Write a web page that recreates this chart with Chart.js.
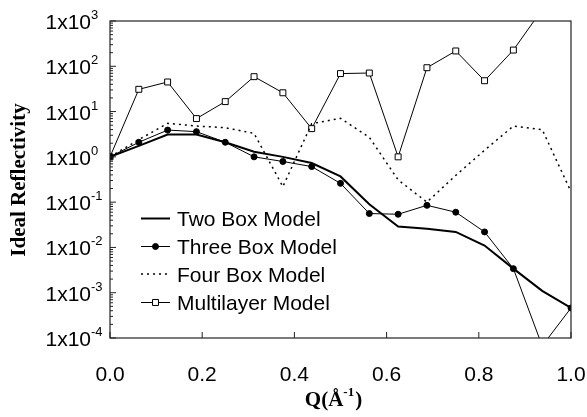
<!DOCTYPE html>
<html>
<head>
<meta charset="utf-8">
<script src="https://cdn.jsdelivr.net/npm/chart.js@4"></script>
<style>
  html, body { margin: 0; padding: 0; background: #fff; }
</style>
</head>
<body>
<canvas id="reflChart" width="587" height="417"></canvas>
<script>
// Q values (1/Angstrom)
const qValues = [0, 0.0625, 0.125, 0.1875, 0.25, 0.3125, 0.375, 0.4375, 0.5, 0.5625, 0.625, 0.6875, 0.75, 0.8125, 0.875, 0.9375, 1.0];

// reflectivity per model
const twoBox = [1, 1.75, 3.1, 3.1, 2.1, 1.3, 1.0, 0.73, 0.37, 0.09, 0.029, 0.026, 0.022, 0.011, 0.0034, 0.0011, 0.00046];
const threeBox = [1, 2.1, 3.9, 3.6, 2.1, 1.0, 0.79, 0.61, 0.26, 0.056, 0.054, 0.085, 0.06, 0.022, 0.0034, 0.000067, 0.00046];
const fourBox = [1, 2.4, 5.5, 4.8, 4.4, 3.3, 0.22, 5.4, 7.1, 2.7, 0.31, 0.1, 0.39, 1.4, 4.8, 4.0, 0.17];
const multilayer = [1, 31, 45, 7, 16.6, 59, 26, 4.2, 69, 71, 1.0, 93, 218, 48, 228, 1800];

const seriesNames = ["Two Box Model", "Three Box Model", "Four Box Model", "Multilayer Model"];
const yDecades = [-4, -3, -2, -1, 0, 1, 2, 3];
const xTickValues = [0, 0.2, 0.4, 0.6, 0.8, 1.0];
const xTickLabels = ["0.0", "0.2", "0.4", "0.6", "0.8", "1.0"];

function toPoints(vals) {
    return vals.map((v, i) => ({ x: qValues[i], y: v }));
}

const sansFont = "'Liberation Sans', Arial, Helvetica, sans-serif";
const serifFont = "'Liberation Serif', 'Times New Roman', serif";

// axes, ticks, labels and legend drawn by hand to match the old plot style
const framePlugin = {
    id: "frame",
    afterDraw(chart) {
        const ctx = chart.ctx;
        const a = chart.chartArea;
        const xs = chart.scales.x;
        const ys = chart.scales.y;
        ctx.save();
        ctx.strokeStyle = "#222";
        ctx.lineWidth = 1.2;
        ctx.strokeRect(a.left, a.top, a.right - a.left, a.bottom - a.top);

        // y ticks, inside
        ctx.lineWidth = 1;
        ctx.beginPath();
        yDecades.forEach(e => {
            const py = ys.getPixelForValue(Math.pow(10, e));
            ctx.moveTo(a.left, py);
            ctx.lineTo(a.left + 6, py);
            if (e < 3) {
                for (let k = 2; k <= 9; k++) {
                    const my = ys.getPixelForValue(k * Math.pow(10, e));
                    ctx.moveTo(a.left, my);
                    ctx.lineTo(a.left + 3, my);
                }
            }
        });
        // x ticks, inside
        xTickValues.forEach(v => {
            const px = xs.getPixelForValue(v);
            ctx.moveTo(px, a.bottom);
            ctx.lineTo(px, a.bottom - 6);
        });
        ctx.stroke();

        // y tick labels 1x10^n
        ctx.fillStyle = "#000";
        ctx.textBaseline = "alphabetic";
        yDecades.forEach(e => {
            const py = ys.getPixelForValue(Math.pow(10, e));
            ctx.font = "21px " + sansFont;
            ctx.textAlign = "right";
            ctx.fillText("1x10", 91, py + 8);
            ctx.font = "13px " + sansFont;
            ctx.textAlign = "left";
            ctx.fillText(String(e), 91, py - 2);
        });

        // x tick labels
        ctx.font = "21px " + sansFont;
        ctx.textAlign = "center";
        xTickValues.forEach((v, i) => {
            ctx.fillText(xTickLabels[i], xs.getPixelForValue(v), 381);
        });

        // x title Q(Å^-1)
        ctx.font = "bold 21px " + serifFont;
        const p1 = "Q(Å", p3 = ")";
        const w1 = ctx.measureText(p1).width;
        const w3 = ctx.measureText(p3).width;
        ctx.font = "bold 13px " + serifFont;
        const w2 = ctx.measureText("-1").width;
        let tx = 333 - (w1 + w2 + w3) / 2;
        ctx.textAlign = "left";
        ctx.font = "bold 21px " + serifFont;
        ctx.fillText(p1, tx, 406);
        ctx.font = "bold 13px " + serifFont;
        ctx.fillText("-1", tx + w1, 396);
        ctx.font = "bold 21px " + serifFont;
        ctx.fillText(p3, tx + w1 + w2 + 1, 406);

        // y title
        ctx.save();
        ctx.translate(25, 180);
        ctx.rotate(-Math.PI / 2);
        ctx.textAlign = "center";
        ctx.font = "bold 21px " + serifFont;
        ctx.fillText("Ideal Reflectivity", 0, 0);
        ctx.restore();

        // legend
        const rowsY = [226, 254, 281.5, 310];
        chart.data.datasets.forEach((ds, i) => {
            const ly = rowsY[i] - 7.5;
            ctx.save();
            ctx.strokeStyle = ds.borderColor;
            ctx.lineWidth = ds.borderWidth;
            ctx.setLineDash(ds.borderDash || []);
            ctx.beginPath();
            ctx.moveTo(141, ly);
            ctx.lineTo(170, ly);
            ctx.stroke();
            ctx.restore();
            if (ds.pointRadius > 0) {
                ctx.fillStyle = ds.pointBackgroundColor;
                ctx.strokeStyle = ds.pointBorderColor;
                ctx.lineWidth = ds.pointBorderWidth;
                ctx.beginPath();
                if (ds.pointStyle === "rect") {
                    const s = ds.pointRadius * Math.SQRT1_2;
                    ctx.rect(155.5 - s, ly - s, 2 * s, 2 * s);
                } else {
                    ctx.arc(155.5, ly, ds.pointRadius, 0, Math.PI * 2);
                }
                ctx.fill();
                ctx.stroke();
            }
            ctx.fillStyle = "#000";
            ctx.font = "21px " + sansFont;
            ctx.textAlign = "left";
            ctx.fillText(ds.label, 177, rowsY[i]);
        });
        ctx.restore();
    }
};

const ctx = document.getElementById("reflChart").getContext("2d");
new Chart(ctx, {
    type: "line",
    data: {
        datasets: [
            {
                label: seriesNames[0],
                data: toPoints(twoBox),
                borderColor: "#000",
                borderWidth: 2,
                pointRadius: 0,
                tension: 0
            },
            {
                label: seriesNames[1],
                data: toPoints(threeBox),
                borderColor: "#000",
                borderWidth: 1,
                pointStyle: "circle",
                pointRadius: 3,
                pointBackgroundColor: "#000",
                pointBorderColor: "#000",
                pointBorderWidth: 1,
                tension: 0
            },
            {
                label: seriesNames[2],
                data: toPoints(fourBox),
                borderColor: "#000",
                borderWidth: 1.5,
                borderDash: [2, 4],
                pointRadius: 0,
                tension: 0
            },
            {
                label: seriesNames[3],
                data: toPoints(multilayer),
                borderColor: "#000",
                borderWidth: 1,
                pointStyle: "rect",
                pointRadius: 4.2,
                pointBackgroundColor: "#fff",
                pointBorderColor: "#000",
                pointBorderWidth: 1,
                tension: 0
            }
        ]
    },
    options: {
        responsive: false,
        animation: false,
        devicePixelRatio: 1,
        layout: { padding: { top: 21, right: 16, left: 0, bottom: 0 } },
        plugins: {
            legend: { display: false },
            tooltip: { enabled: false }
        },
        scales: {
            x: {
                type: "linear",
                min: 0,
                max: 1,
                grid: { display: false },
                border: { display: false },
                ticks: { display: false },
                afterFit(scale) { scale.height = 79; }
            },
            y: {
                type: "logarithmic",
                min: 1e-4,
                max: 1e3,
                grid: { display: false },
                border: { display: false },
                ticks: { display: false },
                afterFit(scale) { scale.width = 110; }
            }
        }
    },
    plugins: [framePlugin]
});
</script>
</body>
</html>
